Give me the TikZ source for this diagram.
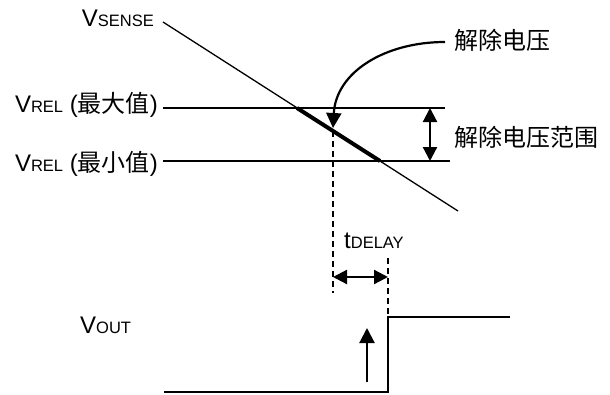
\documentclass[tikz,border=0pt]{standalone}
\usepackage{fontspec}
\setmainfont{Liberation Sans}
\newfontfamily\cjk{Noto Sans CJK SC}
\usetikzlibrary{arrows.meta}
\newcommand{\petit}[1]{{\fontsize{16.5}{19}\selectfont #1}}
\tikzset{
  trait/.style={line width=1.3pt},
  pointille/.style={line width=1.5pt, dash pattern=on 6pt off 4pt},
  fleche/.style={line width=2.2pt, -{Triangle[width=15pt,length=15pt]}},
  dfleche/.style={line width=2.2pt, {Triangle[width=14pt,length=14pt]}-{Triangle[width=14pt,length=14pt]}},
  etiq/.style={inner sep=0pt, font=\fontsize{24}{28}\selectfont}
}
\begin{document}
\begin{tikzpicture}[x=1pt, y=-1pt]
\useasboundingbox (0,0) rectangle (610,394);
% textes
\node [etiq, anchor=base east] (vsense) at (154,26) {V\petit{SENSE}};
\node [etiq, anchor=base east] (vmax) at (158,112) {V\petit{REL} ({\cjk 最大值})};
\node [etiq, anchor=base east] (vmin) at (158,171) {V\petit{REL} ({\cjk 最小值})};
\node [etiq, anchor=base west] (rel) at (454,49) {\cjk 解除电压};
\node [etiq, anchor=base west] (plage) at (454,146) {\cjk 解除电压范围};
\node [etiq, anchor=base west] (tdel) at (344,248) {t\petit{DELAY}};
\node [etiq, anchor=base west] (vout) at (80,333) {V\petit{OUT}};
% points
\coordinate (s1) at (163,22);
\coordinate (s2) at (458,211);
\coordinate (m1) at (163,108);
\coordinate (m2) at (445,108);
\coordinate (n1) at (163,161);
\coordinate (n2) at (450,161);
\coordinate (e1) at (297,108);
\coordinate (e2) at (380,161);
\coordinate (d1) at (333,131);
\coordinate (d2) at (333,293);
\coordinate (f1) at (388,258);
\coordinate (f2) at (388,317);
% droites
\draw [trait] (s1) -- (s2);
\draw [trait] (m1) -- (m2);
\draw [trait] (n1) -- (n2);
\draw [line width=4pt] (e1) -- (e2);
% fleches
\draw [fleche] (445,42) .. controls (385,42) and (336,72) .. (333,128);
\draw [dfleche] (430,108) -- (430,161);
\draw [dfleche] (333,277) -- (388,277);
\draw [fleche] (367,382) -- (367,328);
% delai
\draw [pointille] (d1) -- (d2);
\draw [pointille] (f1) -- (f2);
% sortie
\draw [line width=1.8pt] (164,392) -- (388,392) -- (f2) -- (510,317);
\end{tikzpicture}
\end{document}
